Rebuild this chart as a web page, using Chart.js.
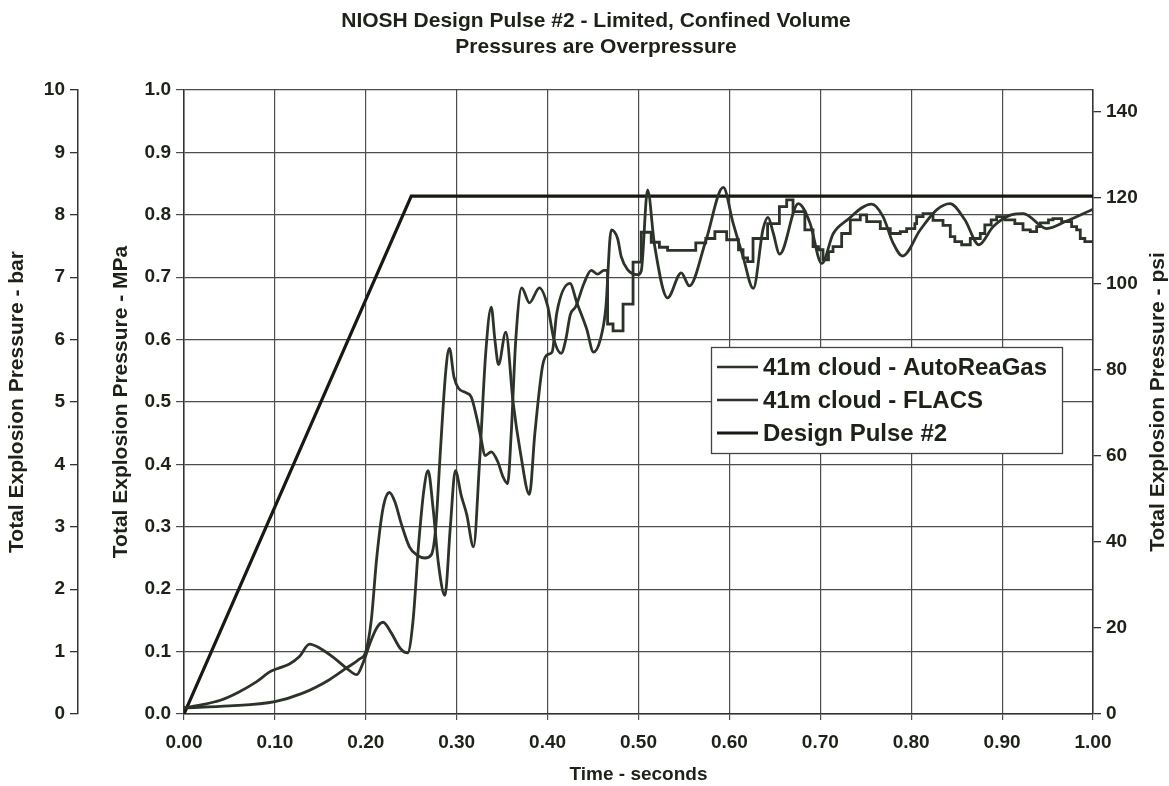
<!DOCTYPE html>
<html>
<head>
<meta charset="utf-8">
<title>NIOSH Design Pulse #2</title>
<script src="https://cdn.jsdelivr.net/npm/chart.js@4.4.1/dist/chart.umd.min.js"></script>
<style>
  html, body { margin: 0; padding: 0; background: #fff; }
</style>
</head>
<body>
<canvas id="myChart" width="1169" height="786"></canvas>
<script>
// time in seconds, pressure in MPa
const autoT = [0, 0.02, 0.04, 0.06, 0.08, 0.095, 0.105, 0.116, 0.127, 0.138, 0.15, 0.165, 0.18, 0.19, 0.197,
  0.205, 0.212, 0.219, 0.228, 0.238, 0.246, 0.252, 0.258, 0.264, 0.2685, 0.274, 0.28, 0.287, 0.293, 0.2985,
  0.305, 0.311, 0.3185, 0.325, 0.332, 0.338, 0.342, 0.346, 0.354, 0.362, 0.37, 0.38, 0.386, 0.3945, 0.4,
  0.405, 0.41, 0.4246, 0.432, 0.443, 0.4505, 0.458, 0.464, 0.47, 0.477, 0.481, 0.488, 0.499, 0.503, 0.51,
  0.5176, 0.532, 0.547, 0.556, 0.574, 0.5933, 0.604, 0.615, 0.6263, 0.637, 0.6425, 0.648, 0.6553, 0.6758,
  0.6886, 0.7015, 0.7143, 0.729, 0.7565, 0.769, 0.78, 0.7905, 0.81, 0.828, 0.8427, 0.859, 0.8745, 0.89,
  0.91, 0.9233, 0.949, 0.971, 1.0];
const autoV = [0.01, 0.015, 0.022, 0.035, 0.052, 0.068, 0.074, 0.08, 0.092, 0.112, 0.105, 0.09, 0.072, 0.063, 0.082,
  0.115, 0.138, 0.147, 0.13, 0.105, 0.098, 0.15, 0.27, 0.36, 0.39, 0.33, 0.24, 0.19, 0.3, 0.39,
  0.35, 0.32, 0.268, 0.4, 0.58, 0.652, 0.6, 0.56, 0.612, 0.5, 0.42, 0.352, 0.45, 0.558, 0.576,
  0.58, 0.642, 0.69, 0.66, 0.617, 0.58, 0.6, 0.65, 0.776, 0.762, 0.733, 0.712, 0.704, 0.71, 0.84,
  0.752, 0.667, 0.707, 0.686, 0.758, 0.844, 0.787, 0.733, 0.682, 0.777, 0.796, 0.772, 0.737, 0.818,
  0.787, 0.722, 0.77, 0.791, 0.817, 0.797, 0.755, 0.734, 0.776, 0.808, 0.818, 0.792, 0.752, 0.781,
  0.8, 0.802, 0.778, 0.79, 0.809];

// FLACS: smooth rise, then the stepped output from ~0.47 s
const flacsT = [0, 0.05, 0.1, 0.13, 0.16, 0.18, 0.193, 0.2, 0.206, 0.212, 0.219, 0.226, 0.232, 0.239, 0.248,
  0.256, 0.265, 0.272, 0.277, 0.282, 0.288, 0.292, 0.297, 0.302, 0.31, 0.316, 0.322, 0.327, 0.331, 0.338,
  0.345, 0.351, 0.356, 0.36, 0.365, 0.3715, 0.38, 0.391, 0.40, 0.407, 0.415, 0.42, 0.425, 0.431, 0.44,
  0.448, 0.455, 0.462, 0.466];
const flacsV = [0.01, 0.013, 0.02, 0.033, 0.055, 0.075, 0.088, 0.1, 0.15, 0.25, 0.33, 0.355, 0.34, 0.305, 0.268,
  0.255, 0.25, 0.255, 0.3, 0.42, 0.55, 0.586, 0.54, 0.522, 0.515, 0.508, 0.475, 0.44, 0.414, 0.42,
  0.405, 0.38, 0.369, 0.45, 0.6, 0.683, 0.659, 0.683, 0.654, 0.6, 0.578, 0.6, 0.64, 0.653, 0.69,
  0.711, 0.705, 0.711, 0.711];
const flacsStepT = [0.466, 0.472, 0.483, 0.494, 0.503, 0.514, 0.523, 0.532, 0.563, 0.574, 0.584, 0.597, 0.61,
  0.615, 0.62, 0.626, 0.642, 0.655, 0.663, 0.670, 0.683, 0.692, 0.698, 0.703, 0.709, 0.714, 0.7235, 0.733,
  0.744, 0.751, 0.766, 0.777, 0.788, 0.795, 0.804, 0.806, 0.813, 0.824, 0.835, 0.843, 0.848, 0.8555, 0.865,
  0.876, 0.881, 0.888, 0.894, 0.903, 0.914, 0.923, 0.931, 0.938, 0.942, 0.951, 0.956, 0.9655, 0.9765,
  0.982, 0.986, 0.991, 0.997, 1.0];
const flacsStepV = [0.711, 0.625, 0.614, 0.657, 0.724, 0.772, 0.756, 0.748, 0.743, 0.755, 0.762, 0.773, 0.760,
  0.744, 0.731, 0.725, 0.762, 0.786, 0.813, 0.824, 0.805, 0.776, 0.749, 0.744, 0.728, 0.741, 0.749, 0.77,
  0.792, 0.80, 0.789, 0.778, 0.770, 0.773, 0.778, 0.786, 0.797, 0.802, 0.791, 0.783, 0.765, 0.757, 0.752,
  0.762, 0.77, 0.784, 0.792, 0.797, 0.792, 0.786, 0.776, 0.773, 0.781, 0.787, 0.792, 0.794, 0.789,
  0.781, 0.776, 0.762, 0.757, 0.757];

const pulseT = [0, 0.25, 1.0];
const pulseV = [0, 0.83, 0.83];

const titleLines = ['NIOSH Design Pulse #2 - Limited, Confined Volume', 'Pressures are Overpressure'];
const seriesNames = ['41m cloud - AutoReaGas', '41m cloud - FLACS', 'Design Pulse #2'];
const psiTitle = 'Total Explosion Pressure - psi';

const MPA_PSI = 145.038;
const FONT = "'Liberation Sans', Arial, sans-serif";
const INK = '#1d2219';
const CURVE = '#2c3329';

const pts = (xs, ys) => xs.map((x, i) => ({x: x, y: ys[i]}));

// title above the plot, plus the psi axis title (reads bottom to top)
const titlePlugin = {
  id: 'extraText',
  afterDraw(chart) {
    const ctx = chart.ctx;
    ctx.save();
    ctx.fillStyle = INK;
    ctx.font = 'bold 21px ' + FONT;
    ctx.textAlign = 'center';
    ctx.textBaseline = 'middle';
    ctx.fillText(titleLines[0], 596, 21);
    ctx.fillText(titleLines[1], 596, 47);

    const area = chart.chartArea;
    ctx.font = 'bold 21px ' + FONT;
    ctx.translate(1158, (area.top + area.bottom) / 2);
    ctx.rotate(-Math.PI / 2);
    ctx.fillText(psiTitle, 0, 0);
    ctx.restore();
  }
};

// boxed legend sitting inside the plot
const boxLegend = {
  id: 'boxLegend',
  afterDraw(chart) {
    const ctx = chart.ctx;
    const L = 711, T = 347, W = 351, H = 106;
    ctx.save();
    ctx.fillStyle = '#fff';
    ctx.fillRect(L, T, W, H);
    ctx.strokeStyle = '#444';
    ctx.lineWidth = 1.3;
    ctx.strokeRect(L + 0.5, T + 0.5, W, H);
    ctx.font = 'bold 24px ' + FONT;
    ctx.textBaseline = 'middle';
    ctx.fillStyle = INK;
    const rows = [T + 20, T + 53, T + 86];
    const widths = [2.6, 2.6, 3.2];
    rows.forEach((y, i) => {
      ctx.strokeStyle = i == 2 ? '#161a12' : CURVE;
      ctx.lineWidth = widths[i];
      ctx.beginPath();
      ctx.moveTo(L + 6, y);
      ctx.lineTo(L + 47, y);
      ctx.stroke();
      ctx.fillText(seriesNames[i], L + 52, y + 1);
    });
    ctx.restore();
  }
};

const tickFont = {family: FONT, size: 19, weight: 'bold'};
const axisTitleFont = {family: FONT, size: 21, weight: 'bold'};

const ctx = document.getElementById('myChart').getContext('2d');
const myChart = new Chart(ctx, {
  type: 'line',
  data: {
    datasets: [
      {
        label: seriesNames[0],
        data: pts(autoT, autoV),
        borderColor: CURVE,
        borderWidth: 2.8,
        pointRadius: 0,
        cubicInterpolationMode: 'monotone',
        yAxisID: 'y'
      },
      {
        label: seriesNames[1],
        data: pts(flacsT, flacsV),
        borderColor: CURVE,
        borderWidth: 2.8,
        pointRadius: 0,
        cubicInterpolationMode: 'monotone',
        yAxisID: 'y'
      },
      {
        label: seriesNames[1] + ' (steps)',
        data: pts(flacsStepT, flacsStepV),
        borderColor: CURVE,
        borderWidth: 2.8,
        pointRadius: 0,
        stepped: 'after',
        yAxisID: 'y'
      },
      {
        label: seriesNames[2],
        data: pts(pulseT, pulseV),
        borderColor: '#161a12',
        borderWidth: 3.2,
        pointRadius: 0,
        tension: 0,
        yAxisID: 'y'
      }
    ]
  },
  options: {
    responsive: false,
    animation: false,
    layout: {padding: {top: 90, left: 0, right: 0, bottom: 0}},
    plugins: {
      legend: {display: false},
      title: {display: false},
      tooltip: {enabled: false}
    },
    scales: {
      x: {
        type: 'linear',
        position: 'bottom',
        min: 0,
        max: 1,
        ticks: {
          stepSize: 0.1,
          callback: v => v.toFixed(2),
          font: tickFont,
          color: INK,
          padding: 11,
          maxRotation: 0,
          autoSkip: false
        },
        grid: {color: '#4d4d4d', lineWidth: 1.2, tickLength: 6},
        border: {color: '#333', width: 1.5},
        title: {display: true, text: 'Time - seconds', font: tickFont, color: INK, padding: {top: 0, bottom: 0}},
        afterFit: s => { s.height = 72; }
      },
      y: {
        type: 'linear',
        position: 'left',
        weight: 0,
        min: 0,
        max: 1,
        ticks: {stepSize: 0.1, callback: v => v.toFixed(1), font: tickFont, color: INK, padding: 5},
        grid: {color: '#4d4d4d', lineWidth: 1.2, tickLength: 8},
        border: {color: '#333', width: 1.5},
        title: {display: true, text: 'Total Explosion Pressure - MPa', font: axisTitleFont, color: INK, padding: {top: 31, bottom: 0}},
        afterFit: s => { s.width = 106; }
      },
      yBar: {
        type: 'linear',
        position: 'left',
        weight: 1,
        min: 0,
        max: 10,
        ticks: {stepSize: 1, font: tickFont, color: INK, padding: 5},
        grid: {drawOnChartArea: false, color: '#333', lineWidth: 1.3, tickLength: 8},
        border: {color: '#333', width: 1.5},
        title: {display: true, text: 'Total Explosion Pressure - bar', font: axisTitleFont, color: INK, padding: {top: 5, bottom: 0}},
        afterFit: s => { s.width = 78; }
      },
      yPsi: {
        type: 'linear',
        position: 'right',
        min: 0,
        max: MPA_PSI,
        ticks: {stepSize: 20, includeBounds: false, font: tickFont, color: INK, padding: 5},
        grid: {drawOnChartArea: false, color: '#333', lineWidth: 1.3, tickLength: 8},
        border: {color: '#333', width: 1.5},
        title: {display: false},
        afterFit: s => { s.width = 76; }
      }
    }
  },
  plugins: [titlePlugin, boxLegend]
});
</script>
</body>
</html>
